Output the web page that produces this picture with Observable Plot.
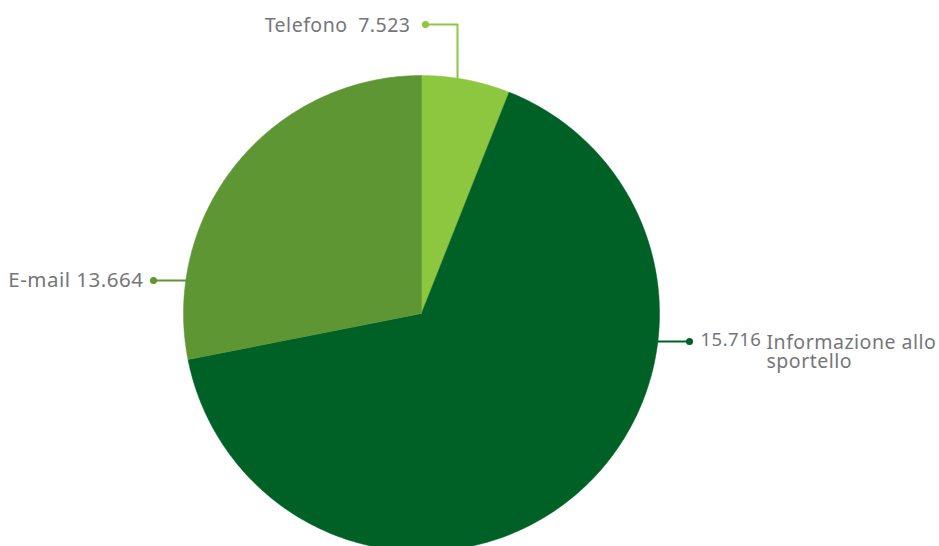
<!DOCTYPE html>
<html>
<head>
<meta charset="utf-8">
<script src="https://cdn.jsdelivr.net/npm/d3@7"></script>
<script src="https://cdn.jsdelivr.net/npm/@observablehq/plot@0.6"></script>
<style>
  html, body { margin: 0; padding: 0; background: #fff; }
  #chart svg { display: block; }
</style>
</head>
<body>
<div id="chart"></div>
<script>
// ---- data ----
const categories = ["Telefono", "Informazione allo sportello", "E-mail"];
const labelValues = ["7.523", "15.716", "13.664"];
// slice shares (%) as drawn in the picture, clockwise from 12 o'clock
const sliceShares = [6.0, 65.9, 28.1];
const sliceColors = ["#8dc63f", "#006127", "#5e9634"];

// ---- layout ----
const W = 939, H = 546;
const cx = 421, cy = 313, R = 238;
const textColor = "#75767a";
const font = "Noto Sans, Open Sans, sans-serif";

// pie polygons via d3.pie angles
const pie = d3.pie().sort(null).value(d => d.share)(
  categories.map((c, i) => ({name: c, share: sliceShares[i]}))
);
const polys = [];
pie.forEach(p => {
  const n = 240;
  polys.push({name: p.data.name, x: cx, y: cy});
  for (let k = 0; k <= n; k++) {
    const a = p.startAngle + (p.endAngle - p.startAngle) * k / n;
    polys.push({name: p.data.name, x: cx + R * Math.sin(a), y: cy - R * Math.cos(a)});
  }
  polys.push({name: p.data.name, x: cx, y: cy});
});

// leader lines (anchor angle on the circle in degrees, dot position)
const leaderLayout = [
  {name: "Telefono", deg: 8.7, dotX: 425, dotY: 24, kind: "up"},
  {name: "Informazione allo sportello", deg: 96.8, dotX: 689, dotY: 341, kind: "h"},
  {name: "E-mail", deg: 278.0, dotX: 153, dotY: 280, kind: "h"}
];
const leaders = [];
const dots = [];
leaderLayout.forEach(l => {
  const a = l.deg * Math.PI / 180;
  const ax = cx + R * Math.sin(a), ay = cy - R * Math.cos(a);
  const pts = l.kind === "up"
    ? [[ax, ay], [ax, l.dotY], [l.dotX, l.dotY]]
    : [[ax, l.dotY], [l.dotX, l.dotY]];
  pts.forEach(p => leaders.push({name: l.name, x: p[0], y: p[1]}));
  dots.push({name: l.name, x: l.dotX, y: l.dotY});
});

// text labels (first-line baseline positions)
const texts = [
  {t: categories[0], x: 347, base: 32, anchor: "end", fs: 19.5},
  {t: labelValues[0], x: 410, base: 32, anchor: "end", fs: 19.5},
  {t: categories[2] + " " + labelValues[2], x: 143, base: 287, anchor: "end", fs: 20.5},
  {t: labelValues[1], x: 700, base: 346, anchor: "start", fs: 18.5},
  {t: "Informazione allo\nsportello", x: 766, base: 349, anchor: "start", fs: 19.5}
];

const plot = Plot.plot({
  width: W, height: H,
  margin: 0,
  style: {fontFamily: font, background: "#fff", letterSpacing: "0.5px"},
  x: {domain: [0, W], range: [0, W], axis: null},
  y: {domain: [0, H], range: [0, H], axis: null},
  color: {domain: categories, range: sliceColors},
  marks: [
    Plot.line(polys, {x: "x", y: "y", z: "name", fill: "name", stroke: "name", strokeWidth: 0.5, curve: "linear"}),
    Plot.line(leaders, {x: "x", y: "y", z: "name", stroke: "name", strokeWidth: 2}),
    Plot.dot(dots, {x: "x", y: "y", fill: "name", r: 3.5}),
    ...texts.map(d => Plot.text([d], {
      x: "x", y: dd => dd.base - 0.71 * dd.fs, text: "t",
      lineAnchor: "top", lineHeight: 0.97,
      textAnchor: d.anchor, fontSize: d.fs, fill: textColor
    }))
  ]
});
document.getElementById("chart").appendChild(plot);
</script>
</body>
</html>
